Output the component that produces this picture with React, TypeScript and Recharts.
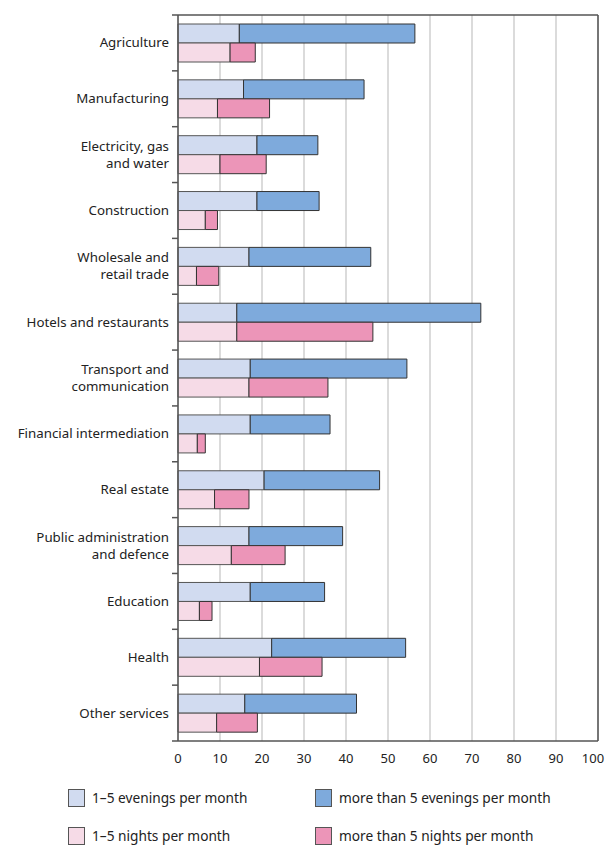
import { Bar, BarChart, CartesianGrid, XAxis, YAxis } from "recharts";

const categories = [
  "Agriculture",
  "Manufacturing",
  "Electricity, gas\nand water",
  "Construction",
  "Wholesale and\nretail trade",
  "Hotels and restaurants",
  "Transport and\ncommunication",
  "Financial intermediation",
  "Real estate",
  "Public administration\nand defence",
  "Education",
  "Health",
  "Other services",
];

const eveningsFew = [14.6, 15.6, 18.8, 18.8, 16.9, 14.0, 17.2, 17.2, 20.5, 16.9, 17.2, 22.3, 15.9];
const eveningsMany = [41.8, 28.7, 14.5, 14.8, 29.0, 58.1, 37.3, 19.0, 27.5, 22.3, 17.7, 31.9, 26.6];
const nightsFew = [12.4, 9.4, 10.0, 6.5, 4.4, 14.0, 16.9, 4.6, 8.7, 12.7, 5.1, 19.4, 9.2];
const nightsMany = [6.0, 12.4, 11.0, 2.9, 5.3, 32.4, 18.8, 1.9, 8.2, 12.8, 3.0, 14.9, 9.7];

const xTicks = [0, 10, 20, 30, 40, 50, 60, 70, 80, 90, 100];

const seriesInfo = [
  { key: "eveFew", label: "1–5 evenings per month", color: "#d1dbf0" },
  { key: "eveMany", label: "more than 5 evenings per month", color: "#7eaadc" },
  { key: "nightFew", label: "1–5 nights per month", color: "#f6dbe7" },
  { key: "nightMany", label: "more than 5 nights per month", color: "#ec95b8" },
];

const data = categories.map((name, i) => ({
  name,
  eveFew: eveningsFew[i],
  eveMany: eveningsMany[i],
  nightFew: nightsFew[i],
  nightMany: nightsMany[i],
}));

const FONT = "'Noto Sans', sans-serif";
const TEXT = "#222";
const AXIS = "#555";
const BAND = (741 - 15) / categories.length;

function CategoryTick(props: any) {
  const { x, y, payload, index } = props;
  const lines = String(payload.value).split("\n");
  const isLast = index === categories.length - 1;
  return (
    <g>
      <line x1={x + 3} x2={x + 9} y1={y - BAND / 2} y2={y - BAND / 2} stroke={AXIS} strokeWidth={1.5} />
      {isLast && (
        <line x1={x + 3} x2={x + 9} y1={y + BAND / 2} y2={y + BAND / 2} stroke={AXIS} strokeWidth={1.5} />
      )}
      <text x={x} y={y} textAnchor="end" fontFamily={FONT} fontSize={13.3} fill={TEXT}>
        {lines.map((line, i) => (
          <tspan key={i} x={x} dy={i === 0 ? (lines.length === 1 ? 4.5 : -4) : 17}>
            {line}
          </tspan>
        ))}
      </text>
    </g>
  );
}

function ValueTick(props: any) {
  const { x, y, payload } = props;
  // the last label is nudged left so it stays inside the frame
  const shift = payload.value === 100 ? -5 : 0;
  return (
    <text x={x + shift} y={y + 14} textAnchor="middle" fontFamily={FONT} fontSize={13} fill={TEXT}>
      {payload.value}
    </text>
  );
}

function Swatch({ color }: { color: string }) {
  return (
    <span
      style={{
        display: "inline-block",
        width: 17,
        height: 18,
        background: color,
        border: "1px solid #555",
        boxSizing: "border-box",
        marginRight: 7,
      }}
    />
  );
}

export default function App() {
  return (
    <div style={{ width: 607, height: 847, position: "relative", background: "#fff" }}>
      <style>{`body{margin:0}`}</style>
      <BarChart
        width={607}
        height={775}
        data={data}
        layout="vertical"
        barGap={0}
        barSize={19}
        margin={{ top: 14, right: 8, bottom: 4, left: 0 }}
      >
        <CartesianGrid vertical horizontal={false} stroke="#cfcfcf" strokeWidth={1.5} />
        <XAxis
          type="number"
          domain={[0, 100]}
          ticks={xTicks}
          interval={0}
          height={30}
          tickLine={false}
          axisLine={{ stroke: AXIS, strokeWidth: 1.5 }}
          tick={<ValueTick />}
        />
        <XAxis
          xAxisId="top"
          type="number"
          orientation="top"
          domain={[0, 100]}
          height={1}
          tick={false}
          tickLine={false}
          axisLine={{ stroke: AXIS, strokeWidth: 1.5 }}
        />
        <YAxis
          type="category"
          dataKey="name"
          width={178}
          interval={0}
          tickSize={6}
          tickMargin={3}
          tickLine={false}
          axisLine={{ stroke: AXIS, strokeWidth: 1.5 }}
          tick={<CategoryTick />}
        />
        <YAxis
          yAxisId="right"
          type="category"
          dataKey="name"
          orientation="right"
          width={1}
          tick={false}
          tickLine={false}
          axisLine={{ stroke: AXIS, strokeWidth: 1.5 }}
        />
        <Bar dataKey="eveFew" stackId="eve" fill={seriesInfo[0].color} stroke="#555" strokeWidth={1} isAnimationActive={false} />
        <Bar dataKey="eveMany" stackId="eve" fill={seriesInfo[1].color} stroke="#333" strokeWidth={1} isAnimationActive={false} />
        <Bar dataKey="nightFew" stackId="night" fill={seriesInfo[2].color} stroke="#555" strokeWidth={1} isAnimationActive={false} />
        <Bar dataKey="nightMany" stackId="night" fill={seriesInfo[3].color} stroke="#333" strokeWidth={1} isAnimationActive={false} />
      </BarChart>

      {seriesInfo.map((s, i) => (
        <div
          key={s.key}
          style={{
            position: "absolute",
            left: i % 2 === 0 ? 68 : 315,
            top: i < 2 ? 788 : 826,
            display: "flex",
            alignItems: "center",
            fontFamily: FONT,
            fontSize: 13.7,
            color: TEXT,
            whiteSpace: "nowrap",
          }}
        >
          <Swatch color={s.color} />
          {s.label}
        </div>
      ))}
    </div>
  );
}
